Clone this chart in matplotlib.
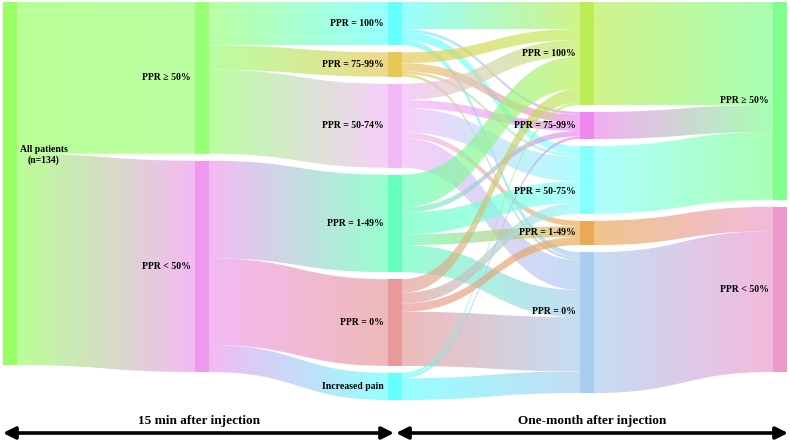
import numpy as np
import matplotlib.pyplot as plt
from matplotlib.path import Path
from matplotlib.patches import PathPatch, FancyArrowPatch, Rectangle
from matplotlib.colors import to_rgb

# node names per column, top to bottom
col0 = ["All patients\n(n=134)"]
col1 = ["PPR \u2265 50%", "PPR < 50%"]
col2 = ["PPR = 100%", "PPR = 75-99%", "PPR = 50-74%", "PPR = 1-49%", "PPR = 0%", "Increased pain"]
col3 = ["PPR = 100%", "PPR = 75-99%", "PPR = 50-75%", "PPR = 1-49%", "PPR = 0%"]
col4 = ["PPR \u2265 50%", "PPR < 50%"]

# patients moving from each node (rows) to the nodes of the next column
flow01 = [[56, 78]]
flow12 = [[16, 9, 31, 0, 0, 0],
          [0, 0, 0, 36, 32, 10]]
flow23 = [[10, 1, 3, 0, 2],
          [4, 3, 1, 0, 1],
          [6, 3, 9, 2, 11],
          [12, 2, 8, 4, 10],
          [5, 0, 4, 3, 20],
          [1, 1, 0, 0, 8]]
flow34 = [[38, 0], [10, 0], [25, 0], [0, 9], [0, 52]]

colors0 = ["#99ff66"]
colors1 = ["#99ff77", "#ee99ee"]
colors2 = ["#66ffff", "#e6c857", "#f2b8f8", "#66ffbb", "#e89a9a", "#66ffff"]
colors3 = ["#bbee55", "#ee88ee", "#88ffff", "#e8aa55", "#aaccf0"]
colors4 = ["#80ff90", "#ee99cc"]

periods = ["15 min after injection", "One-month after injection"]

FONT = "Liberation Serif"


def draw_link(ax, xs, xt, ys0, ys1, yt0, yt1, c0, c1, alpha=0.68):
    xm = (xs + xt) / 2
    verts = [(xs, ys0), (xm, ys0), (xm, yt0), (xt, yt0),
             (xt, yt1), (xm, yt1), (xm, ys1), (xs, ys1), (xs, ys0)]
    codes = [Path.MOVETO, Path.CURVE4, Path.CURVE4, Path.CURVE4,
             Path.LINETO, Path.CURVE4, Path.CURVE4, Path.CURVE4, Path.CLOSEPOLY]
    patch = PathPatch(Path(verts, codes), facecolor='none', edgecolor='none')
    ax.add_patch(patch)
    t = np.linspace(0, 1, 96)
    grad = np.zeros((2, 96, 4))
    grad[..., :3] = (1 - t)[:, None] * np.array(to_rgb(c0)) + t[:, None] * np.array(to_rgb(c1))
    grad[..., 3] = alpha
    lo, hi = min(ys0, yt0), max(ys1, yt1)
    im = ax.imshow(grad, extent=(xs, xt, hi, lo), aspect='auto',
                   interpolation='bilinear', zorder=1)
    im.set_clip_path(patch)


def plot_sankey():
    W, H = 790, 442
    fig = plt.figure(figsize=(7.9, 4.42), dpi=100)
    ax = fig.add_axes([0, 0, 1, 1])
    ax.set_xlim(0, W)
    ax.set_ylim(H, 0)
    ax.axis('off')

    cols = [col0, col1, col2, col3, col4]
    cols_c = [colors0, colors1, colors2, colors3, colors4]
    flows = [flow01, flow12, flow23, flow34]
    col_x = [3, 195, 388, 580, 773]
    node_w = 14
    gap = 7
    top = 2
    scale = 363 / 134

    # node sizes from the flows
    values = []
    for k, names in enumerate(cols):
        vals = []
        for i in range(len(names)):
            out_v = sum(flows[k][i]) if k < len(flows) else 0
            in_v = sum(row[i] for row in flows[k - 1]) if k > 0 else 0
            vals.append(max(out_v, in_v))
        values.append(vals)

    ys = []
    for vals in values:
        y, col_y = top, []
        for v in vals:
            col_y.append((y, y + v * scale))
            y += v * scale + gap
        ys.append(col_y)

    # links
    for k, fl in enumerate(flows):
        out_off = [y0 for y0, _ in ys[k]]
        in_off = [y0 for y0, _ in ys[k + 1]]
        xs = col_x[k] + node_w
        xt = col_x[k + 1]
        for i, row in enumerate(fl):
            for j, v in enumerate(row):
                if v == 0:
                    continue
                h = v * scale
                draw_link(ax, xs, xt, out_off[i], out_off[i] + h, in_off[j], in_off[j] + h,
                          cols_c[k][i], cols_c[k + 1][j])
                out_off[i] += h
                in_off[j] += h

    # nodes and labels
    label_dy = {(3, 2): 12, (3, 4): -11}
    for k, names in enumerate(cols):
        for i, name in enumerate(names):
            y0, y1 = ys[k][i]
            ax.add_patch(Rectangle((col_x[k], y0), node_w, y1 - y0,
                                   facecolor=cols_c[k][i], edgecolor='none', zorder=2))
            if k == 0:
                ax.text(43.5, 155, name, ha='center', va='center', fontsize=7,
                        fontweight='bold', family=FONT, linespacing=1.3, zorder=3)
            else:
                yc = (y0 + y1) / 2 + label_dy.get((k, i), 0)
                ax.text(col_x[k] - 4, yc, name, ha='right', va='center', fontsize=7,
                        fontweight='bold', family=FONT, zorder=3)

    # time axis arrows
    mid = (col_x[2] + col_x[2] + node_w) / 2
    for (a, b), label in zip([(3, mid - 1), (mid + 1, 788)], periods):
        ax.add_patch(FancyArrowPatch((a, 433), (b, 433), arrowstyle='<|-|>',
                                     mutation_scale=18, lw=2.6, color='black',
                                     shrinkA=0, shrinkB=0))
        ax.text((a + b) / 2, 421, label, ha='center', va='center', fontsize=9.5,
                fontweight='bold', family=FONT)

    ax.set_xlim(0, W)
    ax.set_ylim(H, 0)
    fig.savefig("out.png", dpi=100)


if __name__ == "__main__":
    plot_sankey()
